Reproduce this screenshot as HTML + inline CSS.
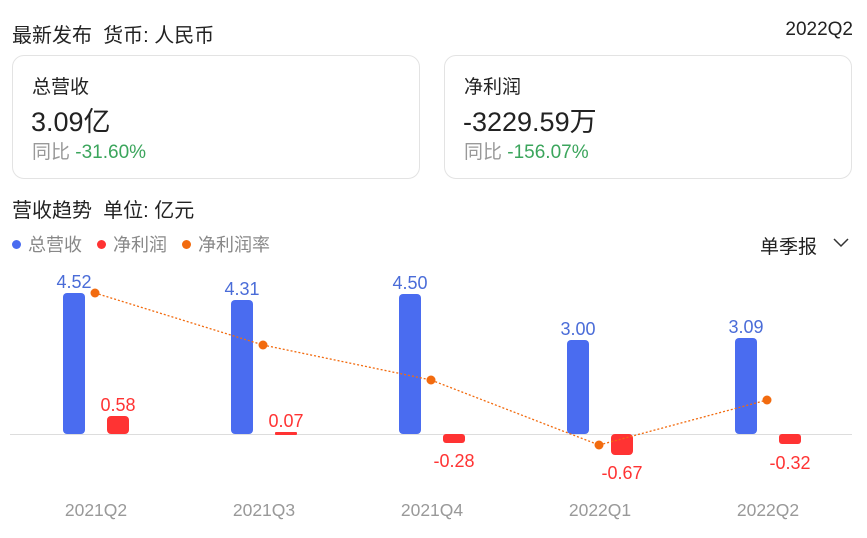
<!DOCTYPE html><html><head><meta charset="utf-8"><style>
body{margin:0;width:867px;height:538px;background:#fff;font-family:"Liberation Sans","Noto Sans CJK SC",sans-serif;position:relative;overflow:hidden;color:#222}
.a{position:absolute;white-space:nowrap}
.card{position:absolute;top:55px;height:124px;border:1px solid #e3e3e3;border-radius:12px;box-sizing:border-box}
.d{display:inline-block;width:9px;height:9px;border-radius:50%;margin-right:7px;vertical-align:2px}
</style></head><body>
<div class="a" style="left:12px;top:19px;font-size:20px">最新发布&nbsp;&nbsp;货币: 人民币</div>
<div class="a" style="right:14px;top:19px;font-size:19px">2022Q2</div>
<div class="card" style="left:12px;width:408px"></div>
<div class="card" style="left:444px;width:408px"></div>
<div class="a" style="left:32px;top:72px;font-size:19px">总营收</div>
<div class="a" style="left:31px;top:100px;font-size:27px">3.09亿</div>
<div class="a" style="left:32px;top:137px;font-size:19px;color:#999">同比 <span style="color:#3ba55c">-31.60%</span></div>
<div class="a" style="left:464px;top:72px;font-size:19px">净利润</div>
<div class="a" style="left:463px;top:100px;font-size:27px">-3229.59万</div>
<div class="a" style="left:464px;top:137px;font-size:19px;color:#999">同比 <span style="color:#3ba55c">-156.07%</span></div>
<div class="a" style="left:12px;top:194px;font-size:20px">营收趋势&nbsp;&nbsp;单位: 亿元</div>
<div class="a" style="left:12px;top:231px;font-size:18px;color:#888"><span class="d" style="background:#4a6cf0"></span>总营收&nbsp;&nbsp;&nbsp;<span class="d" style="background:#f33"></span>净利润&nbsp;&nbsp;&nbsp;<span class="d" style="background:#f26b0f"></span>净利润率</div>
<div class="a" style="left:760px;top:232px;font-size:19px">单季报</div>
<svg class="a" style="left:0;top:0" width="867" height="538">
<polyline points="834,239 841,246 848,239" fill="none" stroke="#333" stroke-width="1.5"/>
<line x1="10" y1="434.5" x2="852" y2="434.5" stroke="#ddd"/>
<g fill="#4a6cf0">
<rect x="63" y="293" width="22" height="141" rx="4"/><rect x="231" y="300" width="22" height="134" rx="4"/><rect x="399" y="294" width="22" height="140" rx="4"/><rect x="567" y="340" width="22" height="94" rx="4"/><rect x="735" y="338" width="22" height="96" rx="4"/>
</g>
<g fill="#f33">
<rect x="107" y="416" width="22" height="18" rx="4"/><rect x="275" y="432" width="22" height="3" rx="1"/><rect x="443" y="434" width="22" height="9" rx="3"/><rect x="611" y="434" width="22" height="21" rx="4"/><rect x="779" y="434" width="22" height="10" rx="3"/>
</g>
<polyline points="95,293 263,345 431,380 599,445 767,400" fill="none" stroke="#f26b0f" stroke-width="1.3" stroke-dasharray="2,2"/>
<g fill="#f26b0f"><circle cx="95" cy="293" r="4.5"/><circle cx="263" cy="345" r="4.5"/><circle cx="431" cy="380" r="4.5"/><circle cx="599" cy="445" r="4.5"/><circle cx="767" cy="400" r="4.5"/></g>
<g font-size="18" text-anchor="middle" fill="#4a6cd8" font-family="Liberation Sans">
<text x="74" y="288">4.52</text><text x="242" y="295">4.31</text><text x="410" y="289">4.50</text><text x="578" y="335">3.00</text><text x="746" y="333">3.09</text></g>
<g font-size="18" text-anchor="middle" fill="#f33" font-family="Liberation Sans">
<text x="118" y="411">0.58</text><text x="286" y="427">0.07</text><text x="454" y="467">-0.28</text><text x="622" y="479">-0.67</text><text x="790" y="469">-0.32</text></g>
<g font-size="17.5" text-anchor="middle" fill="#999" font-family="Liberation Sans">
<text x="96" y="516">2021Q2</text><text x="264" y="516">2021Q3</text><text x="432" y="516">2021Q4</text><text x="600" y="516">2022Q1</text><text x="768" y="516">2022Q2</text></g>
</svg>
</body></html>
